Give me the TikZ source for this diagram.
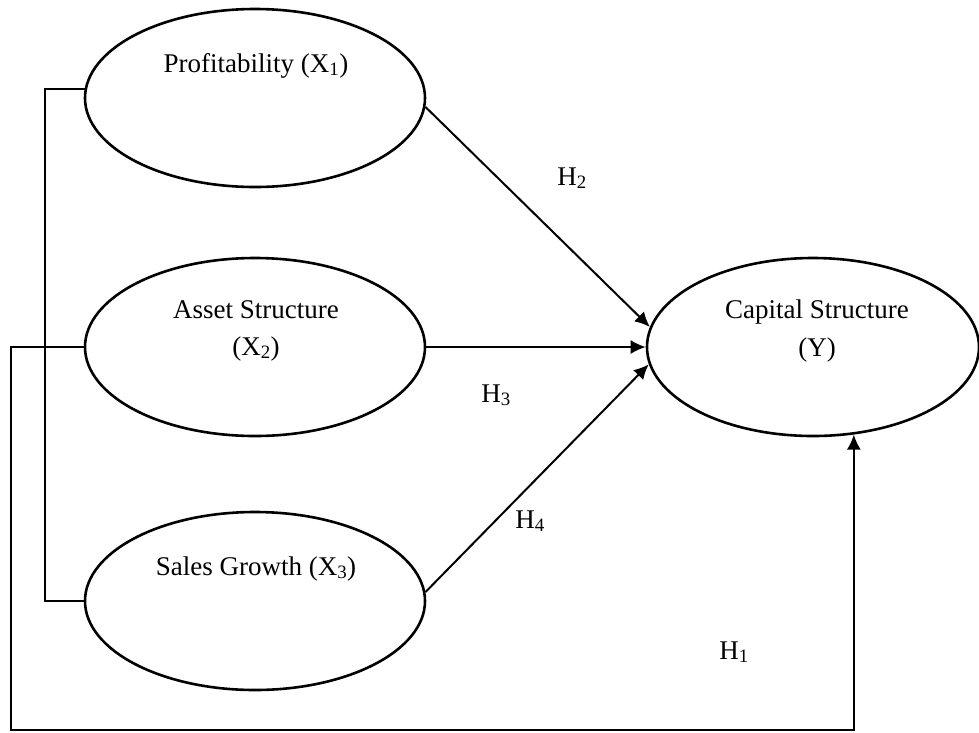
\documentclass[tikz,border=0pt]{standalone}
\usepackage{fontspec}
\setmainfont{Liberation Serif}
\usetikzlibrary{arrows.meta}
\usetikzlibrary{shapes.geometric, calc, math}

\tikzset{
  var/.style={draw, ellipse, line width=2.6pt, minimum width=340pt, minimum height=178pt, inner sep=0pt},
  lbl/.style={font=\fontsize{27}{32}\selectfont, anchor=base, inner sep=0pt},
  link/.style={line width=2pt},
  path/.style={line width=2pt, -{Latex[length=15pt,width=14pt]}}
}

\begin{document}
\begin{tikzpicture}[x=1pt, y=-1pt]
\tikzmath{
\xl=255;
\xr=813;
}
\useasboundingbox (0,0) rectangle (979,732);

\node[var] (prof) at (\xl,98) {};
\node[var] (asset) at (\xl,347) {};
\node[var] (sales) at (\xl,601) {};
\node[var, minimum width=332pt] (cap) at (\xr,347) {};

\node[lbl] (tprof) at (256,72) {Profitability (X\textsubscript{1})};
\node[lbl] (tasset) at (256,318) {Asset Structure};
\node[lbl] (tassetx) at (256,355) {(X\textsubscript{2})};
\node[lbl] (tsales) at (256,575) {Sales Growth (X\textsubscript{3})};
\node[lbl] (tcap) at (817,318) {Capital Structure};
\node[lbl] (tcapy) at (817,356) {(Y)};

\node[lbl] (h2) at (572,185) {H\textsubscript{2}};
\node[lbl] (h3) at (496,402) {H\textsubscript{3}};
\node[lbl] (h4) at (530,528) {H\textsubscript{4}};
\node[lbl] (h1) at (734,659) {H\textsubscript{1}};

\coordinate (corner) at (11,730);

\draw[link] (prof.177) -- ++(-40,0) |- (sales.west);
\draw[path] (prof.-3) -- (cap.173);
\draw[path] (asset.east) -- (cap.west);
\draw[path] (sales.3) -- (cap.186);
\draw[path] (asset.west) -| (corner) -- (cap.-65 |- corner) -- (cap.-65);
\end{tikzpicture}
\end{document}
